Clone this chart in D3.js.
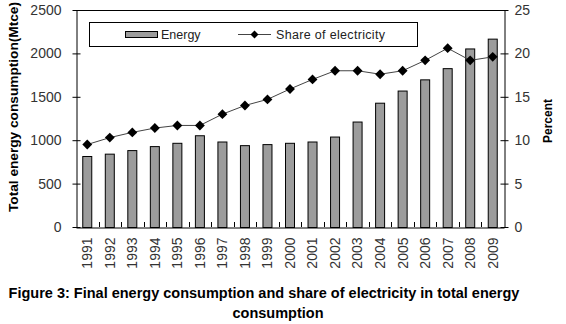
<!DOCTYPE html>
<html><head><meta charset="utf-8">
<script src="https://cdn.jsdelivr.net/npm/d3@7"></script>
<style>
body{margin:0;background:#fff;}
text{font-family:"Liberation Sans",Arial,sans-serif;}
</style></head>
<body><svg id="c" width="566" height="324"></svg>
<script>
const years = ["1991","1992","1993","1994","1995","1996","1997","1998","1999","2000","2001","2002","2003","2004","2005","2006","2007","2008","2009"];
const energy = [818,845,886,932,970,1057,985,943,955,970,985,1042,1215,1432,1572,1701,1830,2057,2170];
const share = [9.5,10.3,10.9,11.4,11.7,11.7,13.0,14.0,14.7,15.9,17.0,18.0,18.0,17.6,18.0,19.2,20.6,19.2,19.6];
const leftTicks = [0,500,1000,1500,2000,2500];
const rightTicks = [0,5,10,15,20,25];

const svg = d3.select("#c");
const L=76, R=504, T=10, B=227;
const x = d3.scaleBand().domain(years).range([L,R]);
const yL = d3.scaleLinear().domain([0,2500]).range([B,T]);
const yR = d3.scaleLinear().domain([0,25]).range([B,T]);
const bw = 10;

// bars
svg.append("g").selectAll("rect").data(years).join("rect")
  .attr("x", d=>x(d)+x.bandwidth()/2-bw/2+0.5)
  .attr("y", (d,i)=>yL(energy[i])+0.5)
  .attr("width", bw-1)
  .attr("height", (d,i)=>B-yL(energy[i]))
  .attr("fill","#9c9c9c").attr("stroke","#000").attr("stroke-width",1);

// frame: top line
svg.append("line").attr("x1",L).attr("x2",R).attr("y1",T+0.5).attr("y2",T+0.5).attr("stroke","#000");

const fmt = d3.format("d");
// left axis
const gL = svg.append("g").attr("transform",`translate(${L+0.5},0)`)
  .call(d3.axisLeft(yL).tickValues(leftTicks).tickFormat(fmt).tickSize(4).tickPadding(11).tickSizeOuter(0));
gL.selectAll(".tick line").attr("x2",4).attr("x1",-4);
// right axis
const gR = svg.append("g").attr("transform",`translate(${R+0.5},0)`)
  .call(d3.axisRight(yR).tickValues(rightTicks).tickFormat(fmt).tickSize(4).tickPadding(6).tickSizeOuter(0));
gR.selectAll(".tick line").attr("x1",-4).attr("x2",4);
// bottom axis
const gB = svg.append("g").attr("transform",`translate(0,${B+0.5})`)
  .call(d3.axisBottom(x).tickSize(0).tickSizeOuter(0));
gB.selectAll(".tick text").attr("transform","rotate(-90)").attr("text-anchor","end")
  .attr("x",-10).attr("y",0).attr("dy","0.35em");
// category separators (inside ticks)
svg.append("g").selectAll("line").data(years.slice(1)).join("line")
  .attr("x1",d=>Math.round(x(d))+0.5).attr("x2",d=>Math.round(x(d))+0.5)
  .attr("y1",B).attr("y2",B-5).attr("stroke","#000");

[gL,gR,gB].forEach(g=>{
  g.selectAll("text").attr("font-size","14px").attr("fill","#333").style("font-family","Liberation Sans, Arial, sans-serif");
  g.select(".domain").attr("stroke","#000");
  g.selectAll(".tick line").attr("stroke","#000");
});

// line
const line = d3.line().x((d,i)=>x(years[i])+x.bandwidth()/2).y(d=>yR(d));
svg.append("path").datum(share).attr("d",line).attr("fill","none").attr("stroke","#444").attr("stroke-width",1);
const diamond = d3.symbol().type(d3.symbolDiamond2).size(62);
svg.append("g").selectAll("path").data(share).join("path")
  .attr("d",diamond)
  .attr("transform",(d,i)=>`translate(${x(years[i])+x.bandwidth()/2},${yR(d)})`)
  .attr("fill","#000");

// legend
const lg = svg.append("g");
lg.append("rect").attr("x",89.5).attr("y",22.5).attr("width",328).attr("height",24).attr("fill","#fff").attr("stroke","#000");
lg.append("rect").attr("x",125.5).attr("y",31.5).attr("width",32).attr("height",6).attr("fill","#9c9c9c").attr("stroke","#000");
lg.append("text").attr("x",161).attr("y",39).attr("font-size","12.5px").attr("fill","#222").text("Energy");
lg.append("line").attr("x1",238).attr("x2",271).attr("y1",34.5).attr("y2",34.5).attr("stroke","#444");
lg.append("path").attr("d",d3.symbol().type(d3.symbolDiamond2).size(40)).attr("transform","translate(254.5,34.5)").attr("fill","#000");
lg.append("text").attr("x",276).attr("y",39).attr("font-size","12.5px").attr("fill","#222")
  .attr("textLength",109).attr("lengthAdjust","spacing").text("Share of electricity");

// axis titles
svg.append("text").attr("transform",`translate(18,107) rotate(-90)`)
  .attr("text-anchor","middle").attr("font-size","13px").attr("font-weight","bold").attr("fill","#000")
  .attr("textLength",210).attr("lengthAdjust","spacingAndGlyphs")
  .text("Total energy consumption(Mtce)");
svg.append("text").attr("transform",`translate(552,121) rotate(-90)`)
  .attr("text-anchor","middle").attr("font-size","12px").attr("font-weight","bold").attr("fill","#000")
  .text("Percent");

// caption
svg.append("text").attr("x",264).attr("y",298).attr("text-anchor","middle").attr("font-size","14.5px").attr("font-weight","bold").attr("fill","#000")
  .text("Figure 3: Final energy consumption and share of electricity in total energy");
svg.append("text").attr("x",278).attr("y",318).attr("text-anchor","middle").attr("font-size","14.5px").attr("font-weight","bold").attr("fill","#000")
  .text("consumption");
</script></body></html>
